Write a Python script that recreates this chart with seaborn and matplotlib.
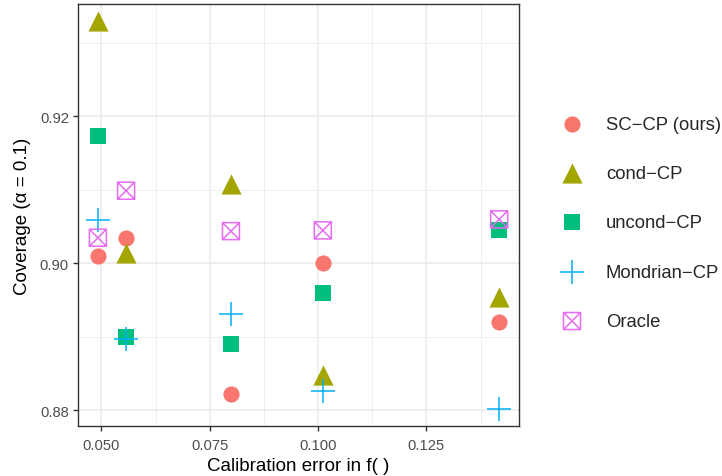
import matplotlib
matplotlib.use("Agg")
import matplotlib.pyplot as plt
import seaborn as sns
import numpy as np
from matplotlib.path import Path
from matplotlib.ticker import MultipleLocator

# ---- data ----
calib_error = [0.0492, 0.0557, 0.0799, 0.1011, 0.1418]
methods = ["SC\u2212CP (ours)", "cond\u2212CP", "uncond\u2212CP", "Mondrian\u2212CP", "Oracle"]
cov_sccp = [0.9010, 0.9035, 0.8822, 0.9000, 0.8921]
cov_cond = [0.9330, 0.9014, 0.9108, 0.8848, 0.8954]
cov_uncond = [0.9173, 0.8900, 0.8890, 0.8960, 0.9045]
cov_mondrian = [0.9059, 0.8897, 0.8931, 0.8827, 0.8802]
cov_oracle = [0.9035, 0.9099, 0.9044, 0.9045, 0.9060]
x_ticks = [0.050, 0.075, 0.100, 0.125]
y_ticks = [0.88, 0.90, 0.92]

series = [cov_sccp, cov_cond, cov_uncond, cov_mondrian, cov_oracle]
colors = ["#F8766D", "#A3A500", "#00BF7D", "#00B0F6", "#E76BF3"]

# square-cross marker (R shape 7)
sq_x = Path(
    [(-1, -1), (1, -1), (1, 1), (-1, 1), (-1, -1),
     (-1, -1), (1, 1), (-1, 1), (1, -1)],
    [Path.MOVETO, Path.LINETO, Path.LINETO, Path.LINETO, Path.CLOSEPOLY,
     Path.MOVETO, Path.LINETO, Path.MOVETO, Path.LINETO],
)

sns.set_theme(style="white")
plt.rcParams["font.family"] = ["Liberation Sans", "DejaVu Sans"]

fig = plt.figure(figsize=(7.22, 4.77), dpi=100)
ax = fig.add_axes([0.108, 0.105, 0.611, 0.8845])

styles = [
    dict(marker="o", s=135, linewidth=0),
    dict(marker="^", s=210, linewidth=0),
    dict(marker="s", s=130, linewidth=0),
    dict(marker="+", s=290, linewidth=1.1),
    dict(marker=sq_x, s=150, linewidth=1.1, facecolor="none", edgecolor=colors[4]),
]

for name, vals, col, st in zip(methods, series, colors, styles):
    st = dict(st)
    if "edgecolor" in st:
        sns.scatterplot(x=calib_error, y=vals, ax=ax, label=name, zorder=3, **st)
    else:
        sns.scatterplot(x=calib_error, y=vals, ax=ax, label=name, color=col, zorder=3, **st)

ax.set_xlim(0.0446, 0.1464)
ax.set_ylim(0.8779, 0.9353)
ax.set_xticks(x_ticks)
ax.set_yticks(y_ticks)
ax.set_xticklabels([f"{v:.3f}" for v in x_ticks])
ax.set_yticklabels([f"{v:.2f}" for v in y_ticks])
ax.xaxis.set_minor_locator(MultipleLocator(0.0125))
ax.yaxis.set_minor_locator(MultipleLocator(0.01))

ax.grid(True, which="major", color="#EBEBEB", linewidth=1.1, zorder=0)
ax.grid(True, which="minor", color="#EBEBEB", linewidth=0.55, zorder=0)
ax.set_axisbelow(True)

for sp in ax.spines.values():
    sp.set_color("#333333")
    sp.set_linewidth(1.0)

ax.tick_params(axis="x", which="major", pad=5)
ax.tick_params(axis="both", which="major", direction="out", length=3.5, width=1.0,
               color="#333333", labelcolor="#4D4D4D", labelsize=10.6,
               bottom=True, left=True)
ax.tick_params(axis="y", which="major", pad=3)
ax.tick_params(axis="both", which="minor", length=0)

ax.set_xlabel("Calibration error in f( )", fontsize=13.5, color="black", labelpad=4)
ax.set_ylabel("Coverage (\u03b1 = 0.1)", fontsize=13.5, color="black", labelpad=6)

handles, labels = ax.get_legend_handles_labels()
if ax.get_legend() is not None:
    ax.get_legend().remove()
fig.legend(handles, labels, loc="center left", bbox_to_anchor=(0.750, 0.531),
           frameon=False, fontsize=13.3, labelspacing=1.75, handlelength=1.5,
           handletextpad=1.09, borderpad=0.4, borderaxespad=0.5)

fig.savefig("out.png", dpi=100)
